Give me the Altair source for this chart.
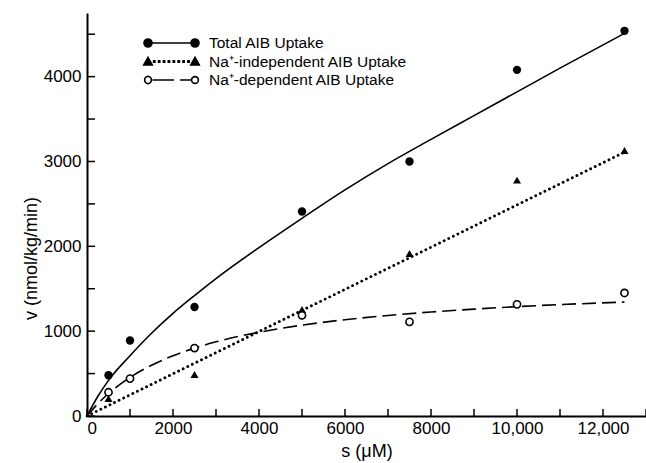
import altair as alt
import pandas as pd

# ---------------- data ----------------
s_curve = [0, 250, 500, 1000, 1500, 2000, 2500, 3000, 4000, 5000, 6000, 7000, 8000, 9000, 10000, 11000, 12500]
total_curve = [0, 230, 420, 710, 975, 1210, 1420, 1620, 1985, 2330, 2665, 2975, 3260, 3540, 3820, 4100, 4510]
dep_curve = [0, 144, 265, 455, 598, 710, 800, 874, 987, 1071, 1135, 1185, 1226, 1260, 1289, 1313, 1343]
indep_line_s = [0, 12500]
indep_line_v = [0, 3110]

s_total = [500, 1000, 2500, 5000, 7500, 10000, 12500]
v_total = [480, 890, 1285, 2410, 3000, 4080, 4540]
s_dep = [500, 1000, 2500, 5000, 7500, 10000, 12500]
v_dep = [280, 441, 801, 1187, 1110, 1316, 1450]
s_indep = [500, 2500, 5000, 7500, 10000, 12500]
v_indep = [205, 490, 1255, 1915, 2780, 3130]

series_names = ["Total AIB Uptake", "Na\u207a-independent AIB Uptake", "Na\u207a-dependent AIB Uptake"]

x_label_values = [0, 2000, 4000, 6000, 8000, 10000, 12000]
x_tick_values = [0, 1000, 2000, 3000, 4000, 5000, 6000, 7000, 8000, 9000, 10000, 11000, 12000, 13000]
y_label_values = [0, 1000, 2000, 3000, 4000]
y_tick_values = [0, 500, 1000, 1500, 2000, 2500, 3000, 3500, 4000, 4500]

# ---------------- styling ----------------
FONT = "Liberation Sans"
W, H = 559, 403
XDOM = [0, 13000]
YDOM = [0, 4750]

xaxis = alt.Axis(
    values=x_label_values, title="s (\u03bcM)",
    labelExpr="datum.value >= 10000 ? format(datum.value, ',') : format(datum.value, 'd')",
    ticks=False, grid=False, domainWidth=2, domainColor="black",
    labelFont=FONT, labelFontSize=17, labelColor="black", labelPadding=4,
    titleFont=FONT, titleFontSize=18, titleFontWeight="normal", titleColor="black", titlePadding=6,
)
yaxis = alt.Axis(
    values=y_label_values, title="v (nmol/kg/min)", format="d",
    ticks=False, grid=False, domainWidth=2, domainColor="black",
    labelFont=FONT, labelFontSize=17, labelColor="black", labelPadding=6,
    titleFont=FONT, titleFontSize=18, titleFontWeight="normal", titleColor="black",
    titleX=-47, titleY=245,
)


def X(field="s"):
    return alt.X(f"{field}:Q", scale=alt.Scale(domain=XDOM, nice=False, zero=False), axis=xaxis)


def Y(field="v"):
    return alt.Y(f"{field}:Q", scale=alt.Scale(domain=YDOM, nice=False, zero=False), axis=yaxis)


# legend symbol paths (unit = sqrt(size)/2 px)
U = 7.0


def circ(cx, r):
    return f"M{cx + r:.3f},0 A{r:.3f},{r:.3f} 0 1,0 {cx - r:.3f},0 A{r:.3f},{r:.3f} 0 1,0 {cx + r:.3f},0 Z"


def tri(cx, w, h):
    return f"M{cx:.3f},{-h * 0.55:.3f} L{cx + w / 2:.3f},{h * 0.45:.3f} L{cx - w / 2:.3f},{h * 0.45:.3f} Z"


left = -47 / U
r_f = 4.0 / U
path_total = f"M{left + r_f:.3f},0 L{-r_f:.3f},0 " + circ(left, r_f) + " " + circ(0, r_f)
dots = " ".join(
    f"M{x:.3f},-0.09 L{x + 0.18:.3f},-0.09 L{x + 0.18:.3f},0.09 L{x:.3f},0.09 Z"
    for x in [left + 0.8 + i * 0.7 for i in range(8)]
)
path_indep = tri(left, 8.5 / U, 7.5 / U) + " " + tri(0, 8.5 / U, 7.5 / U) + " " + dots
r_o = 3.4 / U
path_dep = (
    f"M{left + r_o + 0.15:.3f},0 L{-21 / U:.3f},0 M{-15 / U:.3f},0 L{-r_o - 0.1:.3f},0 "
    + circ(left, r_o) + " " + circ(0, r_o)
)

# ---------------- layers ----------------
curve_df = pd.DataFrame({"s": s_curve, "total": total_curve, "dep": dep_curve})
indep_df = pd.DataFrame({"s": indep_line_s, "v": indep_line_v})

line_total = alt.Chart(curve_df).mark_line(color="black", strokeWidth=1.6, interpolate="monotone").encode(
    x=X(), y=Y("total"))
line_dep = alt.Chart(curve_df).mark_line(color="black", strokeWidth=1.6, strokeDash=[14, 6],
                                          interpolate="monotone").encode(x=X(), y=Y("dep"))
line_indep = alt.Chart(indep_df).mark_line(color="black", strokeWidth=2.8, strokeDash=[0.1, 5],
                                           strokeCap="round").encode(x=X(), y=Y())

pts_total = alt.Chart(pd.DataFrame({"s": s_total, "v": v_total})).mark_point(
    shape="circle", filled=True, color="black", size=70, opacity=1).encode(x=X(), y=Y())
pts_indep = alt.Chart(pd.DataFrame({"s": s_indep, "v": v_indep})).mark_point(
    shape="triangle-up", filled=True, color="black", size=64, opacity=1).encode(x=X(), y=Y())
pts_dep = alt.Chart(pd.DataFrame({"s": s_dep, "v": v_dep})).mark_point(
    shape="circle", filled=True, fill="white", stroke="black", strokeWidth=1.6, size=52, opacity=1).encode(
    x=X(), y=Y())

xticks = alt.Chart(pd.DataFrame({"s": x_tick_values})).mark_rule(color="black", strokeWidth=1.5).encode(
    x=X(), y=alt.value(H), y2=alt.value(H - 7))
yticks = alt.Chart(pd.DataFrame({"v": y_tick_values})).mark_rule(color="black", strokeWidth=1.5).encode(
    y=Y(), x=alt.value(0), x2=alt.value(8))

leg = alt.Legend(title=None, orient="none", legendX=100, legendY=22, padding=0,
                 labelFont=FONT, labelFontSize=15.5, labelColor="black", labelLimit=400, labelOffset=6,
                 symbolSize=196, symbolStrokeWidth=1.6, rowPadding=1.5)
legend_layer = alt.Chart(pd.DataFrame({"series": series_names})).transform_filter(
    "datum.series == 'none'"
).mark_point(filled=True, size=196, strokeWidth=1.6, opacity=1).encode(
    shape=alt.Shape("series:N", scale=alt.Scale(domain=series_names, range=[path_total, path_indep, path_dep]),
                    legend=leg),
    fill=alt.Fill("series:N", scale=alt.Scale(domain=series_names, range=["black", "black", "white"]), legend=leg),
    stroke=alt.Stroke("series:N", scale=alt.Scale(domain=series_names, range=["black", "black", "black"]),
                      legend=leg),
)

chart = alt.layer(
    line_total, line_dep, line_indep, pts_total, pts_indep, pts_dep, xticks, yticks, legend_layer
).properties(
    width=W, height=H,
    padding={"left": 87, "top": 13, "right": 0, "bottom": 47},
    autosize=alt.AutoSizeParams(type="none"),
    background="white",
).configure_view(stroke=None)

chart.save("out.html", embed_options={"renderer": "svg", "actions": False})
